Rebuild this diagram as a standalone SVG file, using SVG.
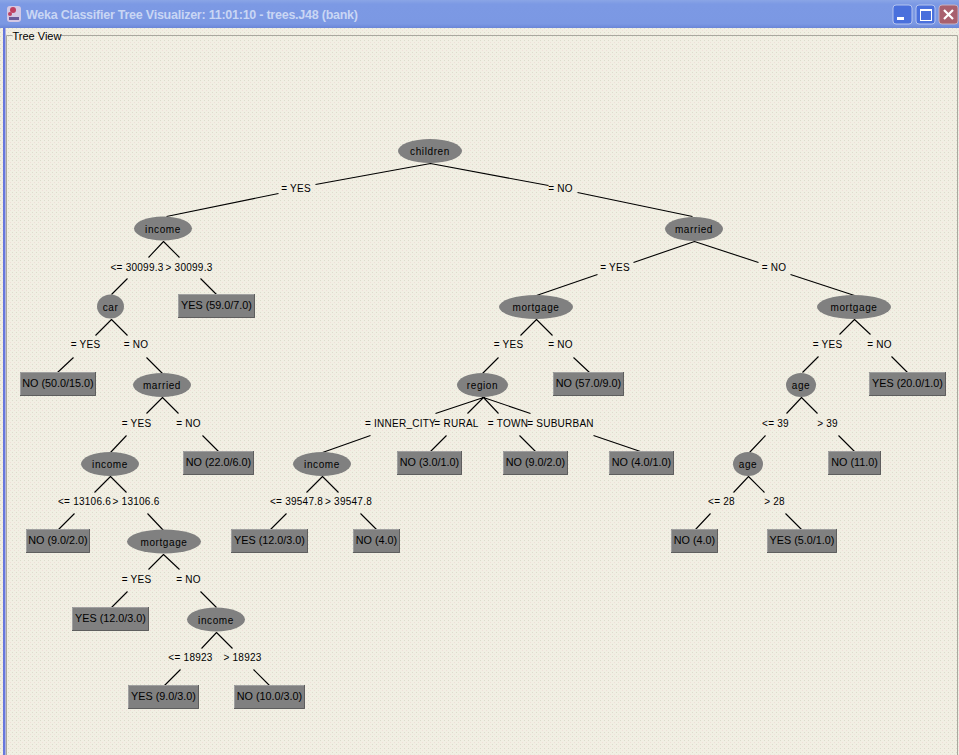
<svg xmlns="http://www.w3.org/2000/svg" width="959" height="755" viewBox="0 0 959 755">
<style>
text{font-family:"Liberation Sans",Arial,sans-serif;fill:#000}
.t{font-size:10px;letter-spacing:.25px;text-anchor:middle}
.n{font-size:10px;letter-spacing:.6px;text-anchor:middle}
.l{font-size:10.800px;text-anchor:middle}
.e{fill:#808080}
.b{fill:#808080;stroke:none}
.hi{fill:none;stroke:#a0a0a0;stroke-width:1}
.lo{fill:none;stroke:#5e5e5e;stroke-width:1}
#connectors path{fill:none;stroke:#000;stroke-width:1.100}
</style>
<defs>
<pattern id="d" width="4" height="4" patternUnits="userSpaceOnUse">
<rect width="4" height="4" fill="#f1efe3"/>
<rect x="0" y="0" width="1" height="1" fill="#dcdccc"/>
<rect x="2" y="2" width="1" height="1" fill="#efdfd8"/>
</pattern>
<linearGradient id="tb" x1="0" y1="0" x2="0" y2="1">
<stop offset="0" stop-color="#8aa5e6"/><stop offset=".15" stop-color="#7c99e4"/><stop offset=".85" stop-color="#7b98e3"/><stop offset="1" stop-color="#6a86d8"/>
</linearGradient>
</defs>
<rect width="959" height="755" fill="url(#d)"/>
<rect width="959" height="28" fill="url(#tb)"/>
<rect x="3" y="28" width="2.500" height="727" fill="#6677dd"/>
<path d="M12.500 35.500H6.500V755M60 35.500H957.500V755" fill="none" stroke="#a9a89f"/>
<g id="window-title">
<rect x="7" y="6" width="14" height="16" rx="3" fill="#d4c8e4"/>
<circle cx="13" cy="10" r="3" fill="#c04060"/><circle cx="10" cy="14" r="2" fill="#c04060"/><rect x="9" y="17" width="10" height="3" fill="#6a5a9a"/>
<text x="26" y="19" textLength="332" lengthAdjust="spacing" style="font-size:12.500px;font-weight:bold;fill:#c9d6f4">Weka Classifier Tree Visualizer: 11:01:10 - trees.J48 (bank)</text>
<rect x="893" y="5" width="19" height="19" rx="3" fill="#4a70dc" stroke="#b5c4ee"/>
<rect x="897" y="17" width="7" height="3" fill="#fff"/>
<rect x="916" y="5" width="19" height="19" rx="3" fill="#4a70dc" stroke="#b5c4ee"/>
<rect x="920.500" y="9.500" width="11" height="11" fill="none" stroke="#fff"/><rect x="920" y="9" width="12" height="2" fill="#fff"/>
<rect x="939" y="5" width="19" height="19" rx="3" fill="#a8606e" stroke="#c5b0c0"/>
<path d="M944 10l9 9M953 10l-9 9" stroke="#fff" stroke-width="2.200" fill="none"/>
</g>
<text x="12.500" y="39.500" style="font-size:11px">Tree View</text>
<g id="connectors" transform="translate(.5 .5)">
<path d="M430 163L315 184M278 193L166 216M430 163L548 185M577 192L692 216"/>
<path d="M163 241L148 257M163 241L179 257M127 278L111 294M200 278L216 294"/>
<path d="M694 241L633 262M597 274L536 295M694 241L758 262M790 274L854 295"/>
<path d="M111 319L95 335M111 319L127 335M73 357L57 372M146 357L162 373"/>
<path d="M536 319L520 335M536 319L552 335M498 357L482 373M573 357L589 372"/>
<path d="M854 319L839 334M854 319L870 334M818 356L802 372M891 356L907 372"/>
<path d="M162 397L146 413M162 397L178 413M126 435L110 452M202 435L218 451"/>
<path d="M483 397L435 413M483 397L467 413M483 397L498 413M483 397L530 413M370 435L322 452M446 435L430 451M519 435L535 451M593 435L640 451"/>
<path d="M801 397L786 413M801 397L817 413M765 435L749 452M838 435L854 451"/>
<path d="M110 476L94 492M110 476L126 492M74 513L58 529M147 513L163 530"/>
<path d="M322 476L306 492M322 476L338 492M286 513L270 529M360 513L376 529"/>
<path d="M748 476L733 492M748 476L764 492M710 513L695 529M785 513L801 529"/>
<path d="M163 554L148 569M163 554L179 569M127 591L111 607M200 591L216 607"/>
<path d="M216 632L201 648M216 632L232 648M180 669L164 685M253 669L269 685"/>
</g>
<g id="edge-labels">
<text class="t" x="296" y="192">= YES</text><text class="t" x="560.500" y="192">= NO</text>
<text class="t" x="137" y="271">&lt;= 30099.3</text><text class="t" x="189" y="271">&gt; 30099.3</text>
<text class="t" x="615" y="271">= YES</text><text class="t" x="774" y="271">= NO</text>
<text class="t" x="85.500" y="348">= YES</text><text class="t" x="136" y="348">= NO</text>
<text class="t" x="508.500" y="348">= YES</text><text class="t" x="560.500" y="348">= NO</text>
<text class="t" x="827.500" y="348">= YES</text><text class="t" x="879.500" y="348">= NO</text>
<text class="t" x="136.500" y="427">= YES</text><text class="t" x="188.500" y="427">= NO</text>
<text class="t" x="400.500" y="427">= INNER_CITY</text><text class="t" x="456.500" y="427">= RURAL</text><text class="t" x="508" y="427">= TOWN</text><text class="t" x="560.500" y="427">= SUBURBAN</text>
<text class="t" x="775.500" y="427">&lt;= 39</text><text class="t" x="827.500" y="427">&gt; 39</text>
<text class="t" x="84.500" y="505">&lt;= 13106.6</text><text class="t" x="136" y="505">&gt; 13106.6</text>
<text class="t" x="296.500" y="505">&lt;= 39547.8</text><text class="t" x="348.500" y="505">&gt; 39547.8</text>
<text class="t" x="721.500" y="505">&lt;= 28</text><text class="t" x="774.500" y="505">&gt; 28</text>
<text class="t" x="136.500" y="583">= YES</text><text class="t" x="188.500" y="583">= NO</text>
<text class="t" x="190.500" y="661">&lt;= 18923</text><text class="t" x="242.500" y="661">&gt; 18923</text>
</g>
<g id="n-children"><ellipse class="e" cx="430" cy="151" rx="32" ry="12"/><text class="n" x="430" y="155">children</text></g>
<g id="n-income1"><ellipse class="e" cx="163" cy="228.500" rx="29" ry="12"/><text class="n" x="163" y="233">income</text></g>
<g id="n-married1"><ellipse class="e" cx="694" cy="229" rx="29" ry="12"/><text class="n" x="694" y="233">married</text></g>
<g id="n-car"><ellipse class="e" cx="110.500" cy="306.500" rx="13.500" ry="12"/><text class="n" x="110.500" y="311">car</text></g>
<g id="n-mortgage1"><ellipse class="e" cx="536" cy="307" rx="37" ry="12"/><text class="n" x="536" y="311">mortgage</text></g>
<g id="n-mortgage2"><ellipse class="e" cx="854" cy="307" rx="37" ry="12"/><text class="n" x="854" y="311">mortgage</text></g>
<g id="n-married2"><ellipse class="e" cx="162" cy="385" rx="29" ry="12"/><text class="n" x="162" y="389">married</text></g>
<g id="n-region"><ellipse class="e" cx="482.500" cy="385" rx="25.500" ry="12"/><text class="n" x="482.500" y="389">region</text></g>
<g id="n-age1"><ellipse class="e" cx="801" cy="385" rx="15" ry="12"/><text class="n" x="801" y="389">age</text></g>
<g id="n-income2"><ellipse class="e" cx="110" cy="464" rx="29" ry="12"/><text class="n" x="110" y="468">income</text></g>
<g id="n-income3"><ellipse class="e" cx="322" cy="464" rx="29" ry="12"/><text class="n" x="322" y="468">income</text></g>
<g id="n-age2"><ellipse class="e" cx="748" cy="464" rx="15" ry="12"/><text class="n" x="748" y="468">age</text></g>
<g id="n-mortgage3"><ellipse class="e" cx="164" cy="541.500" rx="37" ry="12"/><text class="n" x="164" y="546">mortgage</text></g>
<g id="n-income4"><ellipse class="e" cx="216" cy="619.500" rx="29" ry="12"/><text class="n" x="216" y="624">income</text></g>
<g id="leaf-1"><rect class="b" x="178" y="294" width="77" height="24"/><path class="hi" d="M178.500 318V294.500H255"/><path class="lo" d="M254.500 294V317.500H178"/><text class="l" x="216.500" y="309">YES (59.0/7.0)</text></g>
<g id="leaf-2"><rect class="b" x="20" y="372" width="76" height="24"/><path class="hi" d="M20.500 396V372.500H96"/><path class="lo" d="M95.500 372V395.500H20"/><text class="l" x="58" y="387">NO (50.0/15.0)</text></g>
<g id="leaf-3"><rect class="b" x="553" y="372" width="71" height="24"/><path class="hi" d="M553.500 396V372.500H624"/><path class="lo" d="M623.500 372V395.500H553"/><text class="l" x="588.500" y="387">NO (57.0/9.0)</text></g>
<g id="leaf-4"><rect class="b" x="869" y="372" width="77" height="24"/><path class="hi" d="M869.500 396V372.500H946"/><path class="lo" d="M945.500 372V395.500H869"/><text class="l" x="907.500" y="387">YES (20.0/1.0)</text></g>
<g id="leaf-5"><rect class="b" x="183" y="451" width="71" height="24"/><path class="hi" d="M183.500 475V451.500H254"/><path class="lo" d="M253.500 451V474.500H183"/><text class="l" x="218.500" y="466">NO (22.0/6.0)</text></g>
<g id="leaf-6"><rect class="b" x="397" y="451" width="65" height="24"/><path class="hi" d="M397.500 475V451.500H462"/><path class="lo" d="M461.500 451V474.500H397"/><text class="l" x="429.500" y="466">NO (3.0/1.0)</text></g>
<g id="leaf-7"><rect class="b" x="503" y="451" width="65" height="24"/><path class="hi" d="M503.500 475V451.500H568"/><path class="lo" d="M567.500 451V474.500H503"/><text class="l" x="535.500" y="466">NO (9.0/2.0)</text></g>
<g id="leaf-8"><rect class="b" x="609" y="451" width="65" height="24"/><path class="hi" d="M609.500 475V451.500H674"/><path class="lo" d="M673.500 451V474.500H609"/><text class="l" x="641.500" y="466">NO (4.0/1.0)</text></g>
<g id="leaf-9"><rect class="b" x="828" y="451" width="53" height="24"/><path class="hi" d="M828.500 475V451.500H881"/><path class="lo" d="M880.500 451V474.500H828"/><text class="l" x="854.500" y="466">NO (11.0)</text></g>
<g id="leaf-10"><rect class="b" x="26" y="529" width="64" height="24"/><path class="hi" d="M26.500 553V529.500H90"/><path class="lo" d="M89.500 529V552.500H26"/><text class="l" x="58" y="544">NO (9.0/2.0)</text></g>
<g id="leaf-11"><rect class="b" x="231" y="529" width="77" height="24"/><path class="hi" d="M231.500 553V529.500H308"/><path class="lo" d="M307.500 529V552.500H231"/><text class="l" x="269.500" y="544">YES (12.0/3.0)</text></g>
<g id="leaf-12"><rect class="b" x="353" y="529" width="47" height="24"/><path class="hi" d="M353.500 553V529.500H400"/><path class="lo" d="M399.500 529V552.500H353"/><text class="l" x="376.500" y="544">NO (4.0)</text></g>
<g id="leaf-13"><rect class="b" x="671" y="529" width="47" height="24"/><path class="hi" d="M671.500 553V529.500H718"/><path class="lo" d="M717.500 529V552.500H671"/><text class="l" x="694.500" y="544">NO (4.0)</text></g>
<g id="leaf-14"><rect class="b" x="767" y="529" width="70" height="24"/><path class="hi" d="M767.500 553V529.500H837"/><path class="lo" d="M836.500 529V552.500H767"/><text class="l" x="802" y="544">YES (5.0/1.0)</text></g>
<g id="leaf-15"><rect class="b" x="72" y="607" width="77" height="24"/><path class="hi" d="M72.500 631V607.500H149"/><path class="lo" d="M148.500 607V630.500H72"/><text class="l" x="110.500" y="622">YES (12.0/3.0)</text></g>
<g id="leaf-16"><rect class="b" x="128" y="685" width="71" height="24"/><path class="hi" d="M128.500 709V685.500H199"/><path class="lo" d="M198.500 685V708.500H128"/><text class="l" x="163.500" y="700">YES (9.0/3.0)</text></g>
<g id="leaf-17"><rect class="b" x="234" y="685" width="71" height="24"/><path class="hi" d="M234.500 709V685.500H305"/><path class="lo" d="M304.500 685V708.500H234"/><text class="l" x="269.500" y="700">NO (10.0/3.0)</text></g>
</svg>
